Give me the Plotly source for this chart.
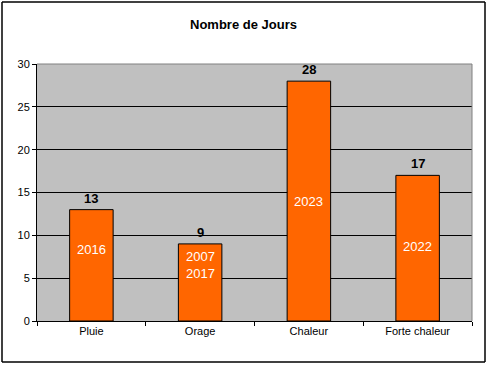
import plotly.graph_objects as go

categories = ["Pluie", "Orage", "Chaleur", "Forte chaleur"]
values = [13, 9, 28, 17]
years = ["2016", "2007<br>2017", "2023", "2022"]
year_label_y = [8.3, 6.5, 13.9, 8.7]
y_ticks = [0, 5, 10, 15, 20, 25, 30]

FONT = "Liberation Sans, Arial, sans-serif"

fig = go.Figure()
fig.add_trace(go.Bar(
    x=categories, y=values,
    marker=dict(color="#FF6600", line=dict(color="black", width=1)),
    width=0.4,
    showlegend=False,
    hoverinfo="skip",
))

for c, v in zip(categories, values):
    fig.add_annotation(x=c, y=v, text="<b>%d</b>" % v, showarrow=False,
                       yanchor="bottom", yshift=2,
                       font=dict(family=FONT, size=13, color="black"),
                       xref="x", yref="y")

for c, lab, yy in zip(categories, years, year_label_y):
    fig.add_annotation(x=c, y=yy, text=lab, showarrow=False,
                       font=dict(family=FONT, size=13, color="white"),
                       xref="x", yref="y")

# plot-area top/right border (gray)
fig.add_shape(type="line", xref="paper", yref="paper", x0=0, x1=1, y0=1, y1=1,
              line=dict(color="#808080", width=1), layer="above")
fig.add_shape(type="line", xref="paper", yref="paper", x0=1, x1=1, y0=0, y1=1,
              line=dict(color="#808080", width=1), layer="above")
# outer chart border
L, R = (2 - 37) / 435, (485 - 37) / 435
B, T = (321 - 362) / 257, (321 - 2) / 257
for x0, y0, x1, y1 in [(L, T, R, T), (L, B, R, B), (L, B, L, T), (R, B, R, T)]:
    fig.add_shape(type="line", xref="paper", yref="paper",
                  x0=x0, y0=y0, x1=x1, y1=y1,
                  line=dict(color="black", width=1.5), layer="above")

fig.update_layout(
    width=487, height=365,
    margin=dict(l=37, r=15, t=64, b=44),
    paper_bgcolor="white",
    plot_bgcolor="#C0C0C0",
    title=dict(text="<b>Nombre de Jours</b>", x=0.5, xanchor="center",
               y=1 - 24 / 365, yanchor="middle",
               font=dict(family=FONT, size=13, color="black")),
    font=dict(family=FONT, size=11, color="black"),
)
fig.update_xaxes(showline=True, linecolor="black", linewidth=1,
                 ticks="outside", tickson="boundaries", ticklen=4, tickcolor="black",
                 tickfont=dict(family=FONT, size=11, color="black"), showgrid=False)
fig.update_yaxes(range=[0, 30], tickvals=y_ticks, showline=True, linecolor="black", linewidth=1,
                 ticks="outside", ticklen=4, tickcolor="black",
                 showgrid=True, gridcolor="black", gridwidth=1, zeroline=False,
                 tickfont=dict(family=FONT, size=11, color="black"))

fig.write_html("out.html", config={"displayModeBar": False},
               post_script="document.body.style.margin='0';")
